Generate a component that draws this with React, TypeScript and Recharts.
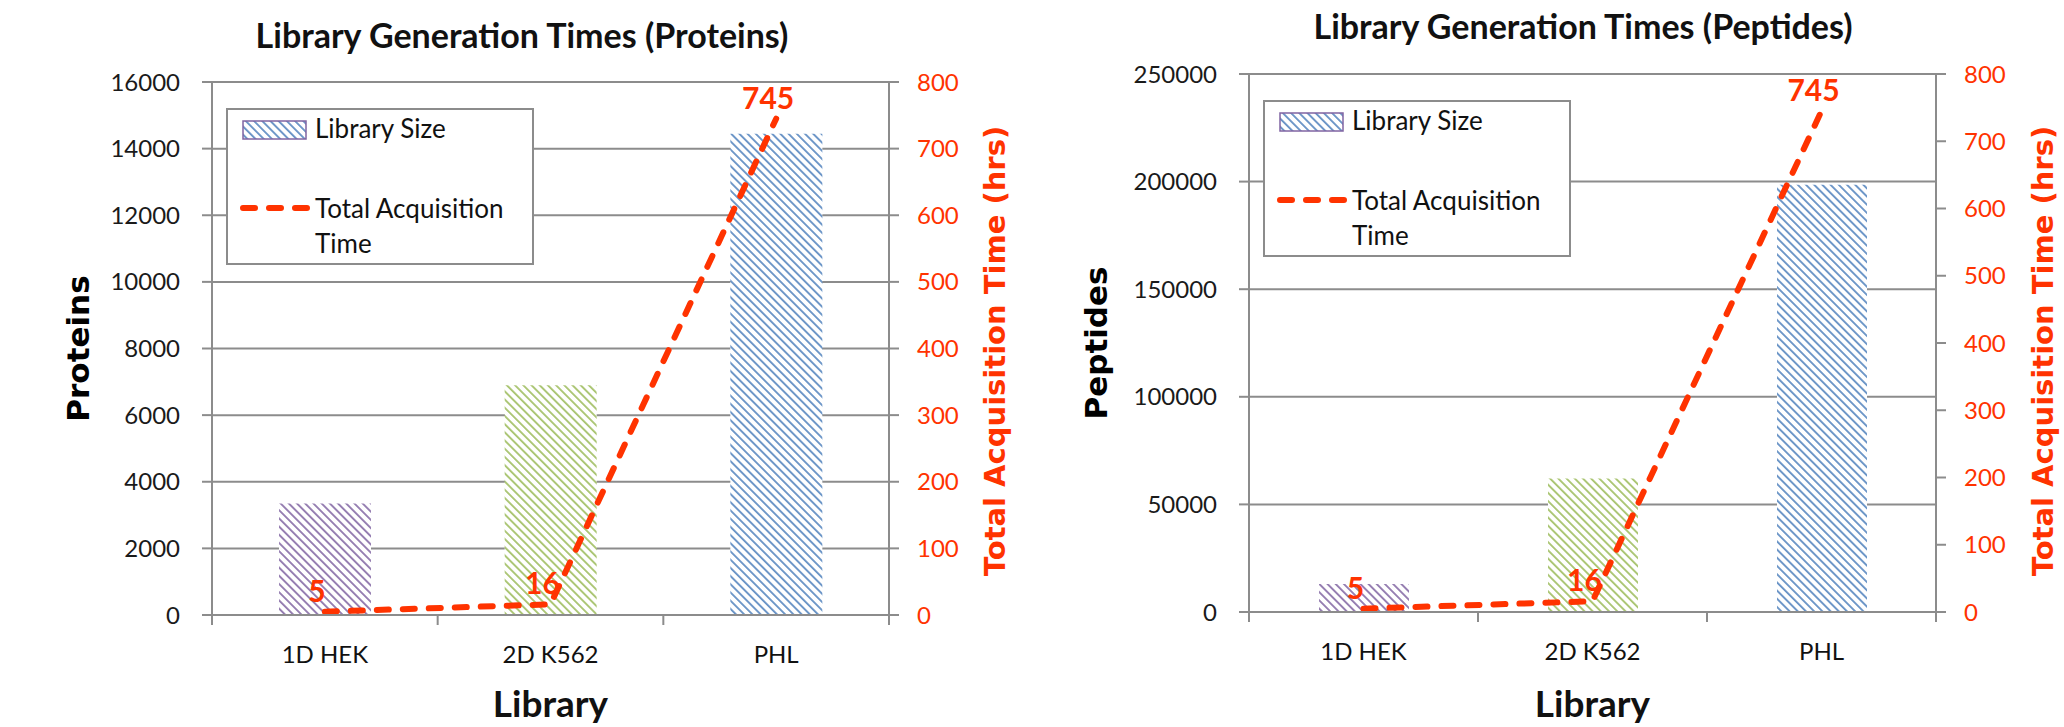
import React from "react"
import {
  ComposedChart,
  Bar,
  Line,
  XAxis,
  YAxis,
  CartesianGrid,
  Cell,
  LabelList,
  Legend
} from "recharts"

const categories = ["1D HEK", "2D K562", "PHL"]
const proteinCounts = [3350, 6900, 14450]
const peptideCounts = [13000, 62000, 198500]
const acquisitionHours = [5, 16, 745]

const proteinTicks = [0, 2000, 4000, 6000, 8000, 10000, 12000, 14000, 16000]
const peptideTicks = [0, 50000, 100000, 150000, 200000, 250000]
const hourTicks = [0, 100, 200, 300, 400, 500, 600, 700, 800]

const seriesNames = ["Library Size", "Total Acquisition Time"]

const RED = "#FF3300"
const GRID = "#8C8C8C"
const hatchIds = ["hatch-purple", "hatch-green", "hatch-blue"]
const hatchColors = ["#8064A2", "#9BBB59", "#4F81BD"]

const W = 1032
const H = 727
const bodyFont = "Lato, 'Open Sans', sans-serif"
const axisTitleFont = "'DejaVu Sans', Verdana, sans-serif"

type Plot = { left: number; right: number; top: number; bottom: number }

type PanelProps = {
  offsetX: number
  title: string
  titleX: number
  titleY: number
  yTitle: string
  yTitleX: number
  rightTitleX: number
  counts: number[]
  ticks: number[]
  plot: Plot
  barSize: number
}

function HatchDefs() {
  return (
    <svg width={0} height={0} style={{ position: "absolute" }}>
      <defs>
        {hatchIds.map((id, i) => (
          <pattern
            key={id}
            id={id}
            patternUnits="userSpaceOnUse"
            width={6}
            height={5.8}
            patternTransform="rotate(45)"
          >
            <rect width={6} height={5.8} fill="#fff" />
            <line x1={0} y1={1} x2={6} y2={1} stroke={hatchColors[i]} strokeWidth={1.6} />
          </pattern>
        ))}
      </defs>
    </svg>
  )
}

function LegendBox() {
  const lineName = seriesNames[1]
  const cut = lineName.lastIndexOf(" ")
  return (
    <svg width={308} height={157} style={{ display: "block" }}>
      <rect x={1} y={1} width={306} height={155} fill="#fff" stroke={GRID} strokeWidth={2} />
      <rect x={17} y={13} width={63} height={18} fill="url(#hatch-blue)" stroke="#8064A2" strokeWidth={1.5} />
      <text x={89} y={30} fontFamily={bodyFont} fontSize={26} fill="#111">
        {seriesNames[0]}
      </text>
      <line
        x1={17}
        x2={81}
        y1={100}
        y2={100}
        stroke={RED}
        strokeWidth={6}
        strokeDasharray="12 14"
        strokeLinecap="round"
      />
      <text x={89} y={110} fontFamily={bodyFont} fontSize={26} fill="#111">
        {lineName.slice(0, cut)}
      </text>
      <text x={89} y={145} fontFamily={bodyFont} fontSize={26} fill="#111">
        {lineName.slice(cut + 1)}
      </text>
    </svg>
  )
}

function Panel(p: PanelProps) {
  const data = categories.map((name, i) => ({
    name,
    size: p.counts[i],
    hours: acquisitionHours[i]
  }))
  const band = (p.plot.right - p.plot.left) / categories.length
  const midX = (p.plot.left + p.plot.right) / 2
  const midY = (p.plot.top + p.plot.bottom) / 2

  const renderTick = (props: any) => {
    const { x, y, payload, index } = props
    return (
      <g>
        <line x1={x - band / 2} x2={x - band / 2} y1={y} y2={y + 10} stroke={GRID} strokeWidth={2} />
        {index === categories.length - 1 && (
          <line x1={x + band / 2} x2={x + band / 2} y1={y} y2={y + 10} stroke={GRID} strokeWidth={2} />
        )}
        <text
          x={x}
          y={y + 38}
          textAnchor="middle"
          dominantBaseline="central"
          fontFamily={bodyFont}
          fontSize={24}
          fill="#111"
        >
          {payload.value}
        </text>
      </g>
    )
  }

  const renderHourLabel = (props: any) => {
    const { x, y, value } = props
    return (
      <text
        x={x - 8}
        y={y - 22}
        textAnchor="middle"
        dominantBaseline="central"
        fontFamily={bodyFont}
        fontWeight="bold"
        fontSize={30}
        fill={RED}
      >
        {value}
      </text>
    )
  }

  return (
    <div style={{ position: "absolute", left: p.offsetX, top: 0, width: W, height: H }}>
      <div
        style={{
          position: "absolute",
          left: p.titleX - 350,
          width: 700,
          top: p.titleY - 22,
          height: 44,
          lineHeight: "44px",
          textAlign: "center",
          fontFamily: bodyFont,
          fontWeight: "bold",
          fontSize: 34,
          color: "#111",
          zIndex: 2
        }}
      >
        {p.title}
      </div>
      <ComposedChart
        width={W}
        height={H}
        data={data}
        margin={{ top: p.plot.top, right: 0, bottom: 0, left: 0 }}
      >
        <CartesianGrid vertical={false} yAxisId="count" stroke={GRID} strokeWidth={2} />
        <XAxis
          dataKey="name"
          height={H - p.plot.bottom}
          interval={0}
          tickLine={false}
          tickSize={0}
          tickMargin={0}
          axisLine={{ stroke: GRID, strokeWidth: 2 }}
          tick={renderTick}
          label={{
            content: () => (
              <text
                x={midX}
                y={702}
                textAnchor="middle"
                dominantBaseline="central"
                fontFamily={bodyFont}
                fontWeight="bold"
                fontSize={37}
                fill="#111"
              >
                Library
              </text>
            )
          }}
        />
        <YAxis
          yAxisId="count"
          width={p.plot.left}
          domain={[0, p.ticks[p.ticks.length - 1]]}
          ticks={p.ticks}
          interval={0}
          tickSize={10}
          tickMargin={22}
          axisLine={{ stroke: GRID, strokeWidth: 2 }}
          tickLine={{ stroke: GRID, strokeWidth: 2 }}
          tick={{ fill: "#1a1a1a", fontSize: 24, fontFamily: bodyFont }}
          label={{
            content: () => (
              <text
                x={p.yTitleX}
                y={midY}
                transform={`rotate(-90 ${p.yTitleX} ${midY})`}
                textAnchor="middle"
                dominantBaseline="central"
                fontFamily={axisTitleFont}
                fontWeight="bold"
                fontSize={31}
                fill="#000"
              >
                {p.yTitle}
              </text>
            )
          }}
        />
        <YAxis
          yAxisId="hours"
          orientation="right"
          width={W - p.plot.right}
          domain={[0, hourTicks[hourTicks.length - 1]]}
          ticks={hourTicks}
          interval={0}
          tickSize={10}
          tickMargin={18}
          axisLine={{ stroke: GRID, strokeWidth: 2 }}
          tickLine={{ stroke: GRID, strokeWidth: 2 }}
          tick={{ fill: RED, fontSize: 24, fontFamily: bodyFont }}
          label={{
            content: () => (
              <text
                x={p.rightTitleX}
                y={351}
                transform={`rotate(-90 ${p.rightTitleX} 351)`}
                textAnchor="middle"
                dominantBaseline="central"
                fontFamily={axisTitleFont}
                fontWeight="bold"
                fontSize={29}
                fill={RED}
              >
                Total Acquisition Time (hrs)
              </text>
            )
          }}
        />
        <Legend
          layout="vertical"
          align="center"
          verticalAlign="middle"
          wrapperStyle={{ left: p.plot.left + 14, top: p.plot.top + 26, width: 308, height: 157 }}
          content={() => <LegendBox />}
        />
        <Bar yAxisId="count" dataKey="size" barSize={p.barSize} isAnimationActive={false}>
          {data.map((d, i) => (
            <Cell key={d.name} fill={`url(#${hatchIds[i]})`} />
          ))}
        </Bar>
        <Line
          yAxisId="hours"
          type="linear"
          dataKey="hours"
          stroke={RED}
          strokeWidth={6}
          strokeDasharray="12 14"
          strokeLinecap="round"
          dot={false}
          activeDot={false}
          isAnimationActive={false}
        >
          <LabelList dataKey="hours" content={renderHourLabel} />
        </Line>
      </ComposedChart>
    </div>
  )
}

export default function App() {
  return (
    <div style={{ position: "absolute", left: 0, top: 0, width: 2064, height: H, background: "#fff" }}>
      <HatchDefs />
      <Panel
        offsetX={0}
        title="Library Generation Times (Proteins)"
        titleX={522}
        titleY={35}
        yTitle="Proteins"
        yTitleX={78}
        rightTitleX={995}
        counts={proteinCounts}
        ticks={proteinTicks}
        plot={{ left: 212, right: 889, top: 82, bottom: 615 }}
        barSize={92}
      />
      <Panel
        offsetX={W}
        title="Library Generation Times (Peptides)"
        titleX={551}
        titleY={26}
        yTitle="Peptides"
        yTitleX={64}
        rightTitleX={1011}
        counts={peptideCounts}
        ticks={peptideTicks}
        plot={{ left: 217, right: 904, top: 74, bottom: 612 }}
        barSize={90}
      />
    </div>
  )
}
